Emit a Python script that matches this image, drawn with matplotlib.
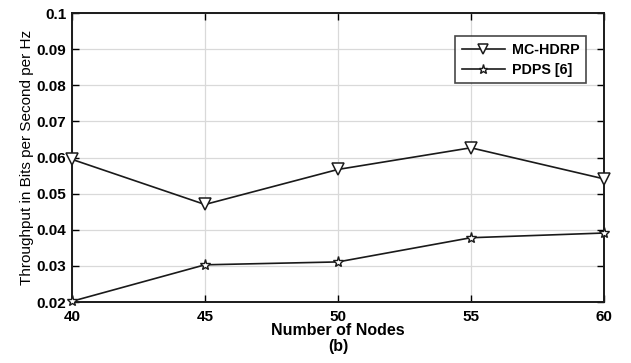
import matplotlib
matplotlib.use("Agg")
import matplotlib.pyplot as plt

plt.rcParams['font.family'] = ['Liberation Sans', 'DejaVu Sans']

nodes = [40, 45, 50, 55, 60]
mc_hdrp = [0.0595, 0.0470, 0.0567, 0.0627, 0.0541]
pdps = [0.0202, 0.0303, 0.0311, 0.0378, 0.0391]
xticks = [40, 45, 50, 55, 60]
yticks = [0.02, 0.03, 0.04, 0.05, 0.06, 0.07, 0.08, 0.09, 0.1]
ytick_labels = ['0.02', '0.03', '0.04', '0.05', '0.06', '0.07', '0.08', '0.09', '0.1']

fig = plt.figure(figsize=(6.31, 3.63), dpi=100)
ax = fig.add_axes([0.114, 0.168, 0.843, 0.796])

ax.plot(nodes, mc_hdrp, color='#1a1a1a', lw=1.2, marker='v', ms=8,
        mfc='white', mec='#1a1a1a', mew=1.1, label='MC-HDRP', clip_on=False, zorder=3)
ax.plot(nodes, pdps, color='#1a1a1a', lw=1.2, marker='*', ms=8,
        mfc='white', mec='#1a1a1a', mew=1.0, label='PDPS [6]', clip_on=False, zorder=3)

ax.set_xlim(40, 60)
ax.set_ylim(0.02, 0.1)
ax.set_xticks(xticks)
ax.set_xticklabels([str(v) for v in xticks], fontweight='bold', fontsize=11)
ax.set_yticks(yticks)
ax.set_yticklabels(ytick_labels, fontweight='bold', fontsize=11)
ax.tick_params(direction='in', length=5, width=1, top=True, right=True)
ax.tick_params(axis='x', pad=6)
ax.tick_params(axis='y', pad=4)
ax.grid(True, color='#d9d9d9', lw=0.9)
ax.set_axisbelow(True)
for s in ax.spines.values():
    s.set_linewidth(1.4)
    s.set_color('#1a1a1a')

ax.set_xlabel('Number of Nodes', fontweight='bold', fontsize=11.5, labelpad=-1)
fig.text(0.5 * (0.114 + 0.957), 1 - 347 / 363, '(b)', ha='center', va='center',
         fontweight='bold', fontsize=11.5)
ax.set_ylabel('Throughput in Bits per Second per Hz', fontsize=11, labelpad=2, fontweight='medium')

leg = ax.legend(loc='upper right', bbox_to_anchor=(0.966, 0.92), borderaxespad=0,
                prop={'weight': 'bold', 'size': 10.3}, frameon=True, fancybox=False,
                edgecolor='#1a1a1a', handlelength=3.0, borderpad=0.45, labelspacing=0.45,
                handletextpad=0.5, markerscale=0.85)
leg.get_frame().set_linewidth(1.2)

fig.savefig('out.png', dpi=100)
